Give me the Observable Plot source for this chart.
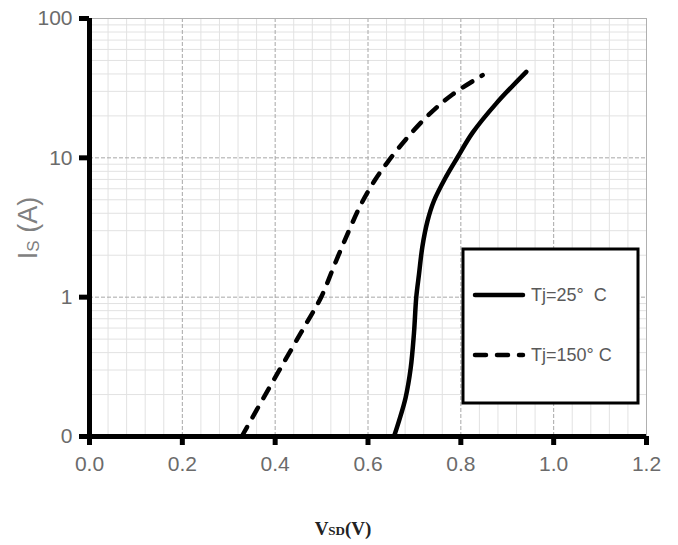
<!DOCTYPE html>
<html><head><meta charset="utf-8">
<script src="https://cdn.jsdelivr.net/npm/d3@7"></script>
<script src="https://cdn.jsdelivr.net/npm/@observablehq/plot@0.6"></script>
<style>body{margin:0;background:#fff;} svg{display:block}</style>
</head><body><div id="chart"></div>
<script>
// Data
const vsd25 = [0.656, 0.667, 0.681, 0.692, 0.699, 0.704, 0.710, 0.717, 0.728, 0.742, 0.768, 0.793, 0.825, 0.876, 0.941];
const is25  = [0.1,   0.13,  0.19,  0.31,  0.55,  1.0,   1.47,  2.29,  3.5,   4.9,   7.3,   10.1,  15.1,  24.5,  41.4];
const vsd150 = [0.328, 0.386, 0.429, 0.465, 0.499, 0.530, 0.558, 0.584, 0.613, 0.640, 0.681, 0.731, 0.782, 0.847];
const is150  = [0.1,   0.22,  0.39,  0.63,  1.0,   1.78,  2.95,  4.57,  6.76,  9.1,   13.5,  20.4,  28.5,  39.2];
const seriesNames = ["Tj=25°  C", "Tj=150° C"];

const xTicks = [0, 0.2, 0.4, 0.6, 0.8, 1.0, 1.2];
const xTickLabels = ["0.0", "0.2", "0.4", "0.6", "0.8", "1.0", "1.2"];
const xMajorGrid = [0.2, 0.4, 0.6, 0.8, 1.0];
const xMinorGrid = [0.04, 0.08, 0.12, 0.16, 0.24, 0.28, 0.32, 0.36, 0.44, 0.48, 0.52, 0.56, 0.64, 0.68, 0.72, 0.76, 0.84, 0.88, 0.92, 0.96, 1.04, 1.08, 1.12, 1.16];
const yTicks = [0.1, 1, 10, 100];
const yTickLabels = ["0", "1", "10", "100"];
const yMajorGrid = [1, 10];
const yMinorGrid = [0.2, 0.3, 0.4, 0.5, 0.6, 0.7, 0.8, 0.9, 2, 3, 4, 5, 6, 7, 8, 9, 20, 30, 40, 50, 60, 70, 80, 90];

const d25 = vsd25.map((v, k) => ({v, i: is25[k]}));
const d150 = vsd150.map((v, k) => ({v, i: is150[k]}));

const labelColor = "#6b6b6b";
const chart = Plot.plot({
  width: 678, height: 545,
  marginLeft: 89, marginRight: 32, marginTop: 18, marginBottom: 109,
  style: {fontFamily: "'Liberation Sans', Arial, sans-serif", background: "#fff"},
  x: {domain: [0, 1.2]},
  y: {type: "log", domain: [0.1, 100]},
  marks: [
    Plot.gridX(xMinorGrid, {stroke: "#e2e2e2", strokeOpacity: 1}),
    Plot.gridY(yMinorGrid, {stroke: "#e2e2e2", strokeOpacity: 1}),
    Plot.gridX(xMajorGrid, {stroke: "#a8a8a8", strokeOpacity: 1, strokeDasharray: "4,2"}),
    Plot.gridY(yMajorGrid, {stroke: "#a8a8a8", strokeOpacity: 1, strokeDasharray: "4,2"}),
    Plot.frame({stroke: "#b0b0b0"}),
    Plot.line(d25, {x: "v", y: "i", stroke: "#000", strokeWidth: 4.5, curve: "catmull-rom"}),
    Plot.line(d150, {x: "v", y: "i", stroke: "#000", strokeWidth: 4.5, curve: "catmull-rom", strokeDasharray: "11,11", strokeLinecap: "round"}),
    Plot.ruleX([0], {stroke: "#000", strokeWidth: 5}),
    Plot.ruleY([0.1], {stroke: "#000", strokeWidth: 5}),
    Plot.axisX(xTicks, {tickSize: 9, strokeWidth: 5, stroke: "#000", tickPadding: 11, fontSize: 21, fill: labelColor,
      tickFormat: d => xTickLabels[xTicks.indexOf(d)], label: null}),
    Plot.axisY(yTicks, {tickSize: 10, strokeWidth: 5, stroke: "#000", tickPadding: 7, fontSize: 21, fill: labelColor,
      tickFormat: d => yTickLabels[yTicks.indexOf(d)], label: null})
  ]
});
document.getElementById("chart").appendChild(chart);

const svg = d3.select(chart);
// Y axis title
const yt = svg.append("text")
  .attr("transform", "translate(37,228) rotate(-90)")
  .attr("text-anchor", "middle")
  .attr("fill", "#808080")
  .attr("font-family", "'Liberation Sans', Arial, sans-serif")
  .attr("font-size", 27);
yt.append("tspan").text("I");
yt.append("tspan").attr("font-size", 17).attr("dy", 2).text("S");
yt.append("tspan").attr("dy", -2).text(" (A)");

// X axis title
const xt = svg.append("text")
  .attr("x", 343).attr("y", 535)
  .attr("text-anchor", "middle")
  .attr("fill", "#222")
  .attr("font-family", "'Liberation Serif', 'DejaVu Serif', serif")
  .attr("font-weight", "bold")
  .attr("font-size", 19);
xt.append("tspan").text("V");
xt.append("tspan").attr("font-size", 13).text("SD");
xt.append("tspan").text("(V)");

// Legend
const lg = svg.append("g");
lg.append("rect").attr("x", 463).attr("y", 249).attr("width", 175).attr("height", 154)
  .attr("fill", "#fff").attr("stroke", "#000").attr("stroke-width", 3);
const rows = [{y: 295, dash: null}, {y: 355, dash: "11,11"}];
rows.forEach((r, k) => {
  const l = lg.append("line").attr("x1", 475).attr("x2", 523).attr("y1", r.y).attr("y2", r.y)
    .attr("stroke", "#000").attr("stroke-width", 4.5).attr("stroke-linecap", "round");
  if (r.dash) l.attr("stroke-dasharray", r.dash);
  lg.append("text").attr("x", 531).attr("y", r.y).attr("dy", "0.35em")
    .attr("text-anchor", "start")
    .attr("fill", "#595959").attr("font-size", 18)
    .attr("font-family", "'Liberation Sans', Arial, sans-serif")
    .style("white-space", "pre")
    .text(seriesNames[k]);
});
</script>
</body></html>
